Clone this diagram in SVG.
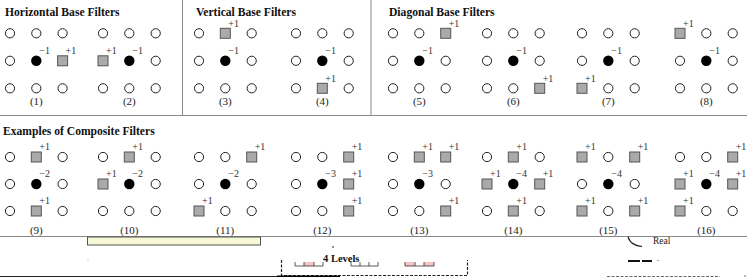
<svg xmlns="http://www.w3.org/2000/svg" xmlns:xlink="http://www.w3.org/1999/xlink" width="747" height="277" viewBox="0 0 747 277">
<style>
.t{font-family:"Liberation Serif","Times New Roman",serif;font-weight:bold;font-size:11.6px;fill:#111}
.v{font-family:"Liberation Serif","Times New Roman",serif;font-size:10px;fill:#333}
.l{font-family:"Liberation Serif","Times New Roman",serif;font-size:11px;fill:#222;text-anchor:middle}
.fr{stroke:#888;stroke-width:1;fill:none}
</style>
<defs>
<circle id="o" r="4.6" fill="#fff" stroke="#222" stroke-width="1"/>
<circle id="d" r="5.2" fill="#000"/>
<rect id="s" x="-5" y="-5" width="10" height="10" fill="#aaa" stroke="#555" stroke-width="1"/>
</defs>
<rect width="747" height="277" fill="#fff"/>
<g id="frame" class="fr">
<line x1="182.5" y1="0" x2="182.5" y2="115.5"/>
<line x1="371" y1="0" x2="371" y2="115.5"/>
<line x1="0" y1="115.5" x2="747" y2="115.5"/>
<line x1="0" y1="236.5" x2="747" y2="236.5"/>
</g>
<g id="titles">
<text class="t" x="5" y="15.5">Horizontal Base Filters</text>
<text class="t" x="196" y="15.5">Vertical Base Filters</text>
<text class="t" x="389" y="15.5">Diagonal Base Filters</text>
<text class="t" x="3" y="134.5">Examples of Composite Filters</text>
</g>
<g id="f1">
<use xlink:href="#o" x="10" y="33.3"/><use xlink:href="#o" x="36.3" y="33.3"/><use xlink:href="#o" x="62.6" y="33.3"/>
<use xlink:href="#o" x="10" y="60.8"/><use xlink:href="#d" x="36.3" y="60.8"/><use xlink:href="#s" x="62.6" y="60.8"/>
<use xlink:href="#o" x="10" y="88.3"/><use xlink:href="#o" x="36.3" y="88.3"/><use xlink:href="#o" x="62.6" y="88.3"/>
<text class="v" x="39.3" y="54.3">−1</text><text class="v" x="65.6" y="54.3">+1</text>
<text class="l" x="36.3" y="104.5">(1)</text>
</g>
<g id="f2">
<use xlink:href="#o" x="103" y="33.3"/><use xlink:href="#o" x="129.3" y="33.3"/><use xlink:href="#o" x="155.7" y="33.3"/>
<use xlink:href="#s" x="103" y="60.8"/><use xlink:href="#d" x="129.3" y="60.8"/><use xlink:href="#o" x="155.7" y="60.8"/>
<use xlink:href="#o" x="103" y="88.3"/><use xlink:href="#o" x="129.3" y="88.3"/><use xlink:href="#o" x="155.7" y="88.3"/>
<text class="v" x="106" y="54.3">+1</text><text class="v" x="132.3" y="54.3">−1</text>
<text class="l" x="129.3" y="104.5">(2)</text>
</g>
<g id="f3">
<use xlink:href="#o" x="199" y="33.3"/><use xlink:href="#s" x="225.3" y="33.3"/><use xlink:href="#o" x="251.7" y="33.3"/>
<use xlink:href="#o" x="199" y="60.8"/><use xlink:href="#d" x="225.3" y="60.8"/><use xlink:href="#o" x="251.7" y="60.8"/>
<use xlink:href="#o" x="199" y="88.3"/><use xlink:href="#o" x="225.3" y="88.3"/><use xlink:href="#o" x="251.7" y="88.3"/>
<text class="v" x="228.3" y="27">+1</text><text class="v" x="228.3" y="54.3">−1</text>
<text class="l" x="225.3" y="104.5">(3)</text>
</g>
<g id="f4">
<use xlink:href="#o" x="296" y="33.3"/><use xlink:href="#o" x="322.3" y="33.3"/><use xlink:href="#o" x="348.7" y="33.3"/>
<use xlink:href="#o" x="296" y="60.8"/><use xlink:href="#d" x="322.3" y="60.8"/><use xlink:href="#o" x="348.7" y="60.8"/>
<use xlink:href="#o" x="296" y="88.3"/><use xlink:href="#s" x="322.3" y="88.3"/><use xlink:href="#o" x="348.7" y="88.3"/>
<text class="v" x="325.3" y="54.3">−1</text><text class="v" x="325.3" y="81.8">+1</text>
<text class="l" x="322.3" y="104.5">(4)</text>
</g>
<g id="f5">
<use xlink:href="#o" x="393" y="33.3"/><use xlink:href="#o" x="419.3" y="33.3"/><use xlink:href="#s" x="445.7" y="33.3"/>
<use xlink:href="#o" x="393" y="60.8"/><use xlink:href="#d" x="419.3" y="60.8"/><use xlink:href="#o" x="445.7" y="60.8"/>
<use xlink:href="#o" x="393" y="88.3"/><use xlink:href="#o" x="419.3" y="88.3"/><use xlink:href="#o" x="445.7" y="88.3"/>
<text class="v" x="448.7" y="27">+1</text><text class="v" x="422.3" y="54.3">−1</text>
<text class="l" x="419.3" y="104.5">(5)</text>
</g>
<g id="f6">
<use xlink:href="#o" x="487" y="33.3"/><use xlink:href="#o" x="513.3" y="33.3"/><use xlink:href="#o" x="539.7" y="33.3"/>
<use xlink:href="#o" x="487" y="60.8"/><use xlink:href="#d" x="513.3" y="60.8"/><use xlink:href="#o" x="539.7" y="60.8"/>
<use xlink:href="#o" x="487" y="88.3"/><use xlink:href="#o" x="513.3" y="88.3"/><use xlink:href="#s" x="539.7" y="88.3"/>
<text class="v" x="516.3" y="54.3">−1</text><text class="v" x="542.7" y="81.8">+1</text>
<text class="l" x="513.3" y="104.5">(6)</text>
</g>
<g id="f7">
<use xlink:href="#o" x="582" y="33.3"/><use xlink:href="#o" x="608.3" y="33.3"/><use xlink:href="#o" x="634.7" y="33.3"/>
<use xlink:href="#o" x="582" y="60.8"/><use xlink:href="#d" x="608.3" y="60.8"/><use xlink:href="#o" x="634.7" y="60.8"/>
<use xlink:href="#s" x="582" y="88.3"/><use xlink:href="#o" x="608.3" y="88.3"/><use xlink:href="#o" x="634.7" y="88.3"/>
<text class="v" x="611.3" y="54.3">−1</text><text class="v" x="585" y="81.8">+1</text>
<text class="l" x="608.3" y="104.5">(7)</text>
</g>
<g id="f8">
<use xlink:href="#s" x="680" y="33.3"/><use xlink:href="#o" x="706.3" y="33.3"/><use xlink:href="#o" x="732.7" y="33.3"/>
<use xlink:href="#o" x="680" y="60.8"/><use xlink:href="#d" x="706.3" y="60.8"/><use xlink:href="#o" x="732.7" y="60.8"/>
<use xlink:href="#o" x="680" y="88.3"/><use xlink:href="#o" x="706.3" y="88.3"/><use xlink:href="#o" x="732.7" y="88.3"/>
<text class="v" x="683" y="27">+1</text><text class="v" x="709.3" y="54.3">−1</text>
<text class="l" x="706.3" y="104.5">(8)</text>
</g>
<g id="f9">
<use xlink:href="#o" x="10" y="157"/><use xlink:href="#s" x="36.3" y="157"/><use xlink:href="#o" x="62.6" y="157"/>
<use xlink:href="#o" x="10" y="184"/><use xlink:href="#d" x="36.3" y="184"/><use xlink:href="#o" x="62.6" y="184"/>
<use xlink:href="#o" x="10" y="211"/><use xlink:href="#s" x="36.3" y="211"/><use xlink:href="#o" x="62.6" y="211"/>
<text class="v" x="39.3" y="149.5">+1</text><text class="v" x="39.3" y="176.5">−2</text><text class="v" x="39.3" y="203.5">+1</text>
<text class="l" x="36.3" y="234">(9)</text>
</g>
<g id="f10">
<use xlink:href="#o" x="103" y="157"/><use xlink:href="#s" x="129.3" y="157"/><use xlink:href="#o" x="155.7" y="157"/>
<use xlink:href="#s" x="103" y="184"/><use xlink:href="#d" x="129.3" y="184"/><use xlink:href="#o" x="155.7" y="184"/>
<use xlink:href="#o" x="103" y="211"/><use xlink:href="#o" x="129.3" y="211"/><use xlink:href="#o" x="155.7" y="211"/>
<text class="v" x="132.3" y="149.5">+1</text><text class="v" x="106" y="176.5">+1</text><text class="v" x="132.3" y="176.5">−2</text>
<text class="l" x="129.3" y="234">(10)</text>
</g>
<g id="f11">
<use xlink:href="#o" x="199" y="157"/><use xlink:href="#o" x="225.3" y="157"/><use xlink:href="#s" x="251.7" y="157"/>
<use xlink:href="#o" x="199" y="184"/><use xlink:href="#d" x="225.3" y="184"/><use xlink:href="#o" x="251.7" y="184"/>
<use xlink:href="#s" x="199" y="211"/><use xlink:href="#o" x="225.3" y="211"/><use xlink:href="#o" x="251.7" y="211"/>
<text class="v" x="254.7" y="149.5">+1</text><text class="v" x="228.3" y="176.5">−2</text><text class="v" x="202" y="203.5">+1</text>
<text class="l" x="225.3" y="234">(11)</text>
</g>
<g id="f12">
<use xlink:href="#o" x="296" y="157"/><use xlink:href="#o" x="322.3" y="157"/><use xlink:href="#s" x="348.7" y="157"/>
<use xlink:href="#o" x="296" y="184"/><use xlink:href="#d" x="322.3" y="184"/><use xlink:href="#s" x="348.7" y="184"/>
<use xlink:href="#o" x="296" y="211"/><use xlink:href="#o" x="322.3" y="211"/><use xlink:href="#s" x="348.7" y="211"/>
<text class="v" x="351.7" y="149.5">+1</text><text class="v" x="325.3" y="176.5">−3</text><text class="v" x="351.7" y="176.5">+1</text><text class="v" x="351.7" y="203.5">+1</text>
<text class="l" x="322.3" y="234">(12)</text>
</g>
<g id="f13">
<use xlink:href="#o" x="393" y="157"/><use xlink:href="#s" x="419.3" y="157"/><use xlink:href="#s" x="445.7" y="157"/>
<use xlink:href="#o" x="393" y="184"/><use xlink:href="#d" x="419.3" y="184"/><use xlink:href="#o" x="445.7" y="184"/>
<use xlink:href="#o" x="393" y="211"/><use xlink:href="#o" x="419.3" y="211"/><use xlink:href="#s" x="445.7" y="211"/>
<text class="v" x="422.3" y="149.5">+1</text><text class="v" x="448.7" y="149.5">+1</text><text class="v" x="422.3" y="176.5">−3</text><text class="v" x="448.7" y="203.5">+1</text>
<text class="l" x="419.3" y="234">(13)</text>
</g>
<g id="f14">
<use xlink:href="#o" x="487" y="157"/><use xlink:href="#s" x="513.3" y="157"/><use xlink:href="#o" x="539.7" y="157"/>
<use xlink:href="#s" x="487" y="184"/><use xlink:href="#d" x="513.3" y="184"/><use xlink:href="#s" x="539.7" y="184"/>
<use xlink:href="#o" x="487" y="211"/><use xlink:href="#s" x="513.3" y="211"/><use xlink:href="#o" x="539.7" y="211"/>
<text class="v" x="516.3" y="149.5">+1</text><text class="v" x="490" y="176.5">+1</text><text class="v" x="516.3" y="176.5">−4</text><text class="v" x="542.7" y="176.5">+1</text><text class="v" x="516.3" y="203.5">+1</text>
<text class="l" x="513.3" y="234">(14)</text>
</g>
<g id="f15">
<use xlink:href="#s" x="582" y="157"/><use xlink:href="#o" x="608.3" y="157"/><use xlink:href="#s" x="634.7" y="157"/>
<use xlink:href="#o" x="582" y="184"/><use xlink:href="#d" x="608.3" y="184"/><use xlink:href="#o" x="634.7" y="184"/>
<use xlink:href="#s" x="582" y="211"/><use xlink:href="#o" x="608.3" y="211"/><use xlink:href="#s" x="634.7" y="211"/>
<text class="v" x="585" y="149.5">+1</text><text class="v" x="637.7" y="149.5">+1</text><text class="v" x="611.3" y="176.5">−4</text><text class="v" x="585" y="203.5">+1</text><text class="v" x="637.7" y="203.5">+1</text>
<text class="l" x="608.3" y="234">(15)</text>
</g>
<g id="f16">
<use xlink:href="#o" x="680" y="157"/><use xlink:href="#o" x="706.3" y="157"/><use xlink:href="#s" x="732.7" y="157"/>
<use xlink:href="#s" x="680" y="184"/><use xlink:href="#d" x="706.3" y="184"/><use xlink:href="#s" x="732.7" y="184"/>
<use xlink:href="#s" x="680" y="211"/><use xlink:href="#o" x="706.3" y="211"/><use xlink:href="#o" x="732.7" y="211"/>
<text class="v" x="735.7" y="149.5">+1</text><text class="v" x="683" y="176.5">+1</text><text class="v" x="709.3" y="176.5">−4</text><text class="v" x="735.7" y="176.5">+1</text><text class="v" x="683" y="203.5">+1</text>
<text class="l" x="706.3" y="234">(16)</text>
</g>
<g id="strip">
<rect x="87.5" y="237" width="173" height="8" fill="#f7f9d6" stroke="#555" stroke-width="1"/>
<circle cx="88" cy="260" r="0.6" fill="#999"/>
<circle cx="333" cy="247" r="0.8" fill="#000"/>
<text x="323" y="262" font-family="Liberation Serif, serif" font-weight="bold" font-size="10.5" fill="#111">4 Levels</text>
<rect x="304" y="262" width="10" height="4" fill="#f6c2c4"/>
<rect x="405" y="262" width="10" height="4" fill="#f6c2c4"/>
<rect x="424" y="262" width="10" height="4" fill="#f6c2c4"/>
<path d="M295,262V266H323V262M304,266V262M314,266V262M351,262V266H378V262M360,266V262M369,266V262M405,262V266H434V262M415,266V262M424,266V262" fill="none" stroke="#333" stroke-width="0.8"/>
<path d="M281.5,260V275.5H467.5V260" fill="none" stroke="#222" stroke-width="1.2" stroke-dasharray="3,1.5"/>
<line x1="0" y1="276.5" x2="277" y2="276.5" stroke="#222" stroke-width="1"/>
<line x1="277" y1="276.3" x2="340" y2="276.3" stroke="#000" stroke-width="1.6"/>
<path d="M628,237Q631,246 642,246.5" fill="none" stroke="#111" stroke-width="1.2"/>
<text x="653" y="244" font-family="Liberation Serif, serif" font-size="9.5" fill="#222">Real</text>
<line x1="628" y1="261" x2="652" y2="261" stroke="#111" stroke-width="1.8" stroke-dasharray="12,2"/>
<circle cx="658" cy="260.5" r="0.6" fill="#333"/>
<line x1="607" y1="276.5" x2="720" y2="276.5" stroke="#444" stroke-width="0.8" stroke-dasharray="3,1.5"/>
<circle cx="745" cy="276" r="0.7" fill="#333"/>
</g>
</svg>
